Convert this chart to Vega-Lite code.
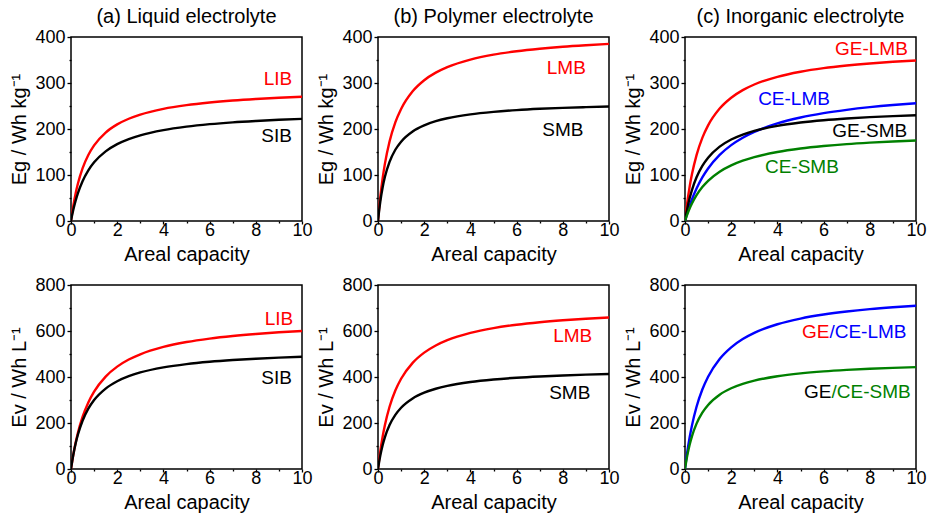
{
"$schema":"https://vega.github.io/schema/vega-lite/v6.json",
"padding":{"left":9,"top":6,"right":2,"bottom":2},
"config":{
 "font":"Liberation Sans",
 "view":{"stroke":"#000","strokeWidth":1.5},
 "axis":{"grid":false,"domain":false,"tickColor":"#000","tickSize":4,"tickWidth":1.3,"labelColor":"#000","labelFontSize":18,"labelPadding":2,"titleFontSize":20,"titleFontWeight":"normal","titleColor":"#000","labelFlush":false},
 "axisY":{"titlePadding":5},
 "axisX":{"titlePadding":5,"tickSize":3,"labelPadding":-3},
 "title":{"fontSize":20,"fontWeight":"normal","color":"#000","offset":1,"anchor":"middle"}
},
"datasets":{
"labels":[
{"p":"a1","t":"LIB","s":"LIB","x":8.96,"y":309},
{"p":"a1","t":"SIB","s":"SIB","x":8.9,"y":185},
{"p":"b1","t":"LMB","s":"LMB","x":8.15,"y":333},
{"p":"b1","t":"SMB","s":"SMB","x":8.0,"y":198},
{"p":"c1","t":"GE-LMB","s":"GE-LMB","x":8.07,"y":374},
{"p":"c1","t":"CE-LMB","s":"CE-LMB","x":4.72,"y":265},
{"p":"c1","t":"GE-SMB","s":"GE-SMB","x":8.0,"y":196},
{"p":"c1","t":"CE-SMB","s":"CE-SMB","x":5.06,"y":117},
{"p":"a2","t":"LIB","s":"LIB","x":9.0,"y":652},
{"p":"a2","t":"SIB","s":"SIB","x":8.9,"y":394},
{"p":"b2","t":"LMB","s":"LMB","x":8.43,"y":578},
{"p":"b2","t":"SMB","s":"SMB","x":8.3,"y":329},
{"p":"c2","t":"GE","s":"GE-LMB","x":6.25,"y":597},
{"p":"c2","t":"/CE-LMB","s":"CE-LMB","x":6.25,"y":597},
{"p":"c2","t":"GE","s":"GE-SMB","x":6.34,"y":336},
{"p":"c2","t":"/CE-SMB","s":"CE-SMB","x":6.34,"y":336}
],
"curves":[
{"p":"a1","s":"LIB","x":0,"y":0},{"p":"a1","s":"LIB","x":0.05,"y":17.7},{"p":"a1","s":"LIB","x":0.1,"y":33.4},{"p":"a1","s":"LIB","x":0.2,"y":60.0},{"p":"a1","s":"LIB","x":0.3,"y":81.5},{"p":"a1","s":"LIB","x":0.5,"y":114.5},{"p":"a1","s":"LIB","x":0.75,"y":143.5},{"p":"a1","s":"LIB","x":1,"y":164.3},{"p":"a1","s":"LIB","x":1.5,"y":192.2},{"p":"a1","s":"LIB","x":2,"y":210.0},{"p":"a1","s":"LIB","x":2.5,"y":222.3},{"p":"a1","s":"LIB","x":3,"y":231.4},{"p":"a1","s":"LIB","x":4,"y":243.9},{"p":"a1","s":"LIB","x":5,"y":252.0},{"p":"a1","s":"LIB","x":6,"y":257.7},{"p":"a1","s":"LIB","x":7,"y":262.0},{"p":"a1","s":"LIB","x":8,"y":265.3},{"p":"a1","s":"LIB","x":9,"y":267.9},{"p":"a1","s":"LIB","x":10,"y":270.0},
{"p":"a1","s":"SIB","x":0,"y":0},{"p":"a1","s":"SIB","x":0.05,"y":12.8},{"p":"a1","s":"SIB","x":0.1,"y":24.3},{"p":"a1","s":"SIB","x":0.2,"y":44.1},{"p":"a1","s":"SIB","x":0.3,"y":60.7},{"p":"a1","s":"SIB","x":0.5,"y":86.6},{"p":"a1","s":"SIB","x":0.75,"y":110.2},{"p":"a1","s":"SIB","x":1,"y":127.6},{"p":"a1","s":"SIB","x":1.5,"y":151.4},{"p":"a1","s":"SIB","x":2,"y":167.1},{"p":"a1","s":"SIB","x":2.5,"y":178.1},{"p":"a1","s":"SIB","x":3,"y":186.3},{"p":"a1","s":"SIB","x":4,"y":197.6},{"p":"a1","s":"SIB","x":5,"y":205.1},{"p":"a1","s":"SIB","x":6,"y":210.5},{"p":"a1","s":"SIB","x":7,"y":214.5},{"p":"a1","s":"SIB","x":8,"y":217.5},{"p":"a1","s":"SIB","x":9,"y":220.0},{"p":"a1","s":"SIB","x":10,"y":222.0},
{"p":"b1","s":"LMB","x":0,"y":0},{"p":"b1","s":"LMB","x":0.05,"y":27.8},{"p":"b1","s":"LMB","x":0.1,"y":52.2},{"p":"b1","s":"LMB","x":0.2,"y":92.6},{"p":"b1","s":"LMB","x":0.3,"y":124.8},{"p":"b1","s":"LMB","x":0.5,"y":173.0},{"p":"b1","s":"LMB","x":0.75,"y":214.5},{"p":"b1","s":"LMB","x":1,"y":243.6},{"p":"b1","s":"LMB","x":1.5,"y":282.0},{"p":"b1","s":"LMB","x":2,"y":306.1},{"p":"b1","s":"LMB","x":2.5,"y":322.6},{"p":"b1","s":"LMB","x":3,"y":334.6},{"p":"b1","s":"LMB","x":4,"y":351.0},{"p":"b1","s":"LMB","x":5,"y":361.7},{"p":"b1","s":"LMB","x":6,"y":369.1},{"p":"b1","s":"LMB","x":7,"y":374.6},{"p":"b1","s":"LMB","x":8,"y":378.9},{"p":"b1","s":"LMB","x":9,"y":382.2},{"p":"b1","s":"LMB","x":10,"y":385.0},
{"p":"b1","s":"SMB","x":0,"y":0},{"p":"b1","s":"SMB","x":0.05,"y":23.1},{"p":"b1","s":"SMB","x":0.1,"y":42.4},{"p":"b1","s":"SMB","x":0.2,"y":73.0},{"p":"b1","s":"SMB","x":0.3,"y":96.1},{"p":"b1","s":"SMB","x":0.5,"y":128.6},{"p":"b1","s":"SMB","x":0.75,"y":154.9},{"p":"b1","s":"SMB","x":1,"y":172.5},{"p":"b1","s":"SMB","x":1.5,"y":194.7},{"p":"b1","s":"SMB","x":2,"y":208.0},{"p":"b1","s":"SMB","x":2.5,"y":216.9},{"p":"b1","s":"SMB","x":3,"y":223.3},{"p":"b1","s":"SMB","x":4,"y":231.9},{"p":"b1","s":"SMB","x":5,"y":237.3},{"p":"b1","s":"SMB","x":6,"y":241.1},{"p":"b1","s":"SMB","x":7,"y":243.9},{"p":"b1","s":"SMB","x":8,"y":246.0},{"p":"b1","s":"SMB","x":9,"y":247.6},{"p":"b1","s":"SMB","x":10,"y":249.0},
{"p":"c1","s":"GE-LMB","x":0,"y":0},{"p":"c1","s":"GE-LMB","x":0.05,"y":21.8},{"p":"c1","s":"GE-LMB","x":0.1,"y":41.2},{"p":"c1","s":"GE-LMB","x":0.2,"y":74.2},{"p":"c1","s":"GE-LMB","x":0.3,"y":101.4},{"p":"c1","s":"GE-LMB","x":0.5,"y":143.3},{"p":"c1","s":"GE-LMB","x":0.75,"y":180.7},{"p":"c1","s":"GE-LMB","x":1,"y":207.8},{"p":"c1","s":"GE-LMB","x":1.5,"y":244.4},{"p":"c1","s":"GE-LMB","x":2,"y":268.0},{"p":"c1","s":"GE-LMB","x":2.5,"y":284.5},{"p":"c1","s":"GE-LMB","x":3,"y":296.7},{"p":"c1","s":"GE-LMB","x":4,"y":313.5},{"p":"c1","s":"GE-LMB","x":5,"y":324.5},{"p":"c1","s":"GE-LMB","x":6,"y":332.3},{"p":"c1","s":"GE-LMB","x":7,"y":338.0},{"p":"c1","s":"GE-LMB","x":8,"y":342.5},{"p":"c1","s":"GE-LMB","x":9,"y":346.1},{"p":"c1","s":"GE-LMB","x":10,"y":349.0},
{"p":"c1","s":"CE-LMB","x":0,"y":0},{"p":"c1","s":"CE-LMB","x":0.05,"y":9.0},{"p":"c1","s":"CE-LMB","x":0.1,"y":17.5},{"p":"c1","s":"CE-LMB","x":0.2,"y":33.0},{"p":"c1","s":"CE-LMB","x":0.3,"y":46.9},{"p":"c1","s":"CE-LMB","x":0.5,"y":70.7},{"p":"c1","s":"CE-LMB","x":0.75,"y":94.8},{"p":"c1","s":"CE-LMB","x":1,"y":114.2},{"p":"c1","s":"CE-LMB","x":1.5,"y":143.7},{"p":"c1","s":"CE-LMB","x":2,"y":165.0},{"p":"c1","s":"CE-LMB","x":2.5,"y":181.1},{"p":"c1","s":"CE-LMB","x":3,"y":193.7},{"p":"c1","s":"CE-LMB","x":4,"y":212.1},{"p":"c1","s":"CE-LMB","x":5,"y":225.0},{"p":"c1","s":"CE-LMB","x":6,"y":234.5},{"p":"c1","s":"CE-LMB","x":7,"y":241.7},{"p":"c1","s":"CE-LMB","x":8,"y":247.5},{"p":"c1","s":"CE-LMB","x":9,"y":252.2},{"p":"c1","s":"CE-LMB","x":10,"y":256.0},
{"p":"c1","s":"GE-SMB","x":0,"y":0},{"p":"c1","s":"GE-SMB","x":0.05,"y":14.5},{"p":"c1","s":"GE-SMB","x":0.1,"y":27.4},{"p":"c1","s":"GE-SMB","x":0.2,"y":49.3},{"p":"c1","s":"GE-SMB","x":0.3,"y":67.3},{"p":"c1","s":"GE-SMB","x":0.5,"y":95.0},{"p":"c1","s":"GE-SMB","x":0.75,"y":119.7},{"p":"c1","s":"GE-SMB","x":1,"y":137.5},{"p":"c1","s":"GE-SMB","x":1.5,"y":161.6},{"p":"c1","s":"GE-SMB","x":2,"y":177.1},{"p":"c1","s":"GE-SMB","x":2.5,"y":187.9},{"p":"c1","s":"GE-SMB","x":3,"y":195.9},{"p":"c1","s":"GE-SMB","x":4,"y":206.8},{"p":"c1","s":"GE-SMB","x":5,"y":214.0},{"p":"c1","s":"GE-SMB","x":6,"y":219.1},{"p":"c1","s":"GE-SMB","x":7,"y":222.9},{"p":"c1","s":"GE-SMB","x":8,"y":225.8},{"p":"c1","s":"GE-SMB","x":9,"y":228.1},{"p":"c1","s":"GE-SMB","x":10,"y":230.0},
{"p":"c1","s":"CE-SMB","x":0,"y":0},{"p":"c1","s":"CE-SMB","x":0.05,"y":7.5},{"p":"c1","s":"CE-SMB","x":0.1,"y":14.5},{"p":"c1","s":"CE-SMB","x":0.2,"y":27.1},{"p":"c1","s":"CE-SMB","x":0.3,"y":38.0},{"p":"c1","s":"CE-SMB","x":0.5,"y":56.1},{"p":"c1","s":"CE-SMB","x":0.75,"y":73.7},{"p":"c1","s":"CE-SMB","x":1,"y":87.4},{"p":"c1","s":"CE-SMB","x":1.5,"y":107.3},{"p":"c1","s":"CE-SMB","x":2,"y":121.0},{"p":"c1","s":"CE-SMB","x":2.5,"y":131.2},{"p":"c1","s":"CE-SMB","x":3,"y":138.9},{"p":"c1","s":"CE-SMB","x":4,"y":150.0},{"p":"c1","s":"CE-SMB","x":5,"y":157.5},{"p":"c1","s":"CE-SMB","x":6,"y":162.9},{"p":"c1","s":"CE-SMB","x":7,"y":167.1},{"p":"c1","s":"CE-SMB","x":8,"y":170.3},{"p":"c1","s":"CE-SMB","x":9,"y":172.9},{"p":"c1","s":"CE-SMB","x":10,"y":175.0},
{"p":"a2","s":"LIB","x":0,"y":0},{"p":"a2","s":"LIB","x":0.05,"y":32.8},{"p":"a2","s":"LIB","x":0.1,"y":62.4},{"p":"a2","s":"LIB","x":0.2,"y":114.0},{"p":"a2","s":"LIB","x":0.3,"y":157.4},{"p":"a2","s":"LIB","x":0.5,"y":226.2},{"p":"a2","s":"LIB","x":0.75,"y":289.4},{"p":"a2","s":"LIB","x":1,"y":336.5},{"p":"a2","s":"LIB","x":1.5,"y":401.9},{"p":"a2","s":"LIB","x":2,"y":445.1},{"p":"a2","s":"LIB","x":2.5,"y":475.8},{"p":"a2","s":"LIB","x":3,"y":498.8},{"p":"a2","s":"LIB","x":4,"y":530.7},{"p":"a2","s":"LIB","x":5,"y":552.0},{"p":"a2","s":"LIB","x":6,"y":567.1},{"p":"a2","s":"LIB","x":7,"y":578.4},{"p":"a2","s":"LIB","x":8,"y":587.2},{"p":"a2","s":"LIB","x":9,"y":594.3},{"p":"a2","s":"LIB","x":10,"y":600.0},
{"p":"a2","s":"SIB","x":0,"y":0},{"p":"a2","s":"SIB","x":0.05,"y":32.8},{"p":"a2","s":"SIB","x":0.1,"y":61.7},{"p":"a2","s":"SIB","x":0.2,"y":110.4},{"p":"a2","s":"SIB","x":0.3,"y":149.9},{"p":"a2","s":"SIB","x":0.5,"y":209.8},{"p":"a2","s":"SIB","x":0.75,"y":262.3},{"p":"a2","s":"SIB","x":1,"y":299.8},{"p":"a2","s":"SIB","x":1.5,"y":349.7},{"p":"a2","s":"SIB","x":2,"y":381.5},{"p":"a2","s":"SIB","x":2.5,"y":403.5},{"p":"a2","s":"SIB","x":3,"y":419.7},{"p":"a2","s":"SIB","x":4,"y":441.8},{"p":"a2","s":"SIB","x":5,"y":456.2},{"p":"a2","s":"SIB","x":6,"y":466.3},{"p":"a2","s":"SIB","x":7,"y":473.8},{"p":"a2","s":"SIB","x":8,"y":479.6},{"p":"a2","s":"SIB","x":9,"y":484.2},{"p":"a2","s":"SIB","x":10,"y":488.0},
{"p":"b2","s":"LMB","x":0,"y":0},{"p":"b2","s":"LMB","x":0.05,"y":41.1},{"p":"b2","s":"LMB","x":0.1,"y":77.7},{"p":"b2","s":"LMB","x":0.2,"y":140.2},{"p":"b2","s":"LMB","x":0.3,"y":191.4},{"p":"b2","s":"LMB","x":0.5,"y":270.6},{"p":"b2","s":"LMB","x":0.75,"y":341.2},{"p":"b2","s":"LMB","x":1,"y":392.3},{"p":"b2","s":"LMB","x":1.5,"y":461.5},{"p":"b2","s":"LMB","x":2,"y":506.1},{"p":"b2","s":"LMB","x":2.5,"y":537.2},{"p":"b2","s":"LMB","x":3,"y":560.2},{"p":"b2","s":"LMB","x":4,"y":591.9},{"p":"b2","s":"LMB","x":5,"y":612.7},{"p":"b2","s":"LMB","x":6,"y":627.4},{"p":"b2","s":"LMB","x":7,"y":638.3},{"p":"b2","s":"LMB","x":8,"y":646.7},{"p":"b2","s":"LMB","x":9,"y":653.5},{"p":"b2","s":"LMB","x":10,"y":659.0},
{"p":"b2","s":"SMB","x":0,"y":0},{"p":"b2","s":"SMB","x":0.05,"y":31.4},{"p":"b2","s":"SMB","x":0.1,"y":58.6},{"p":"b2","s":"SMB","x":0.2,"y":103.5},{"p":"b2","s":"SMB","x":0.3,"y":138.9},{"p":"b2","s":"SMB","x":0.5,"y":191.2},{"p":"b2","s":"SMB","x":0.75,"y":235.6},{"p":"b2","s":"SMB","x":1,"y":266.5},{"p":"b2","s":"SMB","x":1.5,"y":306.8},{"p":"b2","s":"SMB","x":2,"y":331.9},{"p":"b2","s":"SMB","x":2.5,"y":349.0},{"p":"b2","s":"SMB","x":3,"y":361.5},{"p":"b2","s":"SMB","x":4,"y":378.3},{"p":"b2","s":"SMB","x":5,"y":389.2},{"p":"b2","s":"SMB","x":6,"y":396.8},{"p":"b2","s":"SMB","x":7,"y":402.4},{"p":"b2","s":"SMB","x":8,"y":406.8},{"p":"b2","s":"SMB","x":9,"y":410.2},{"p":"b2","s":"SMB","x":10,"y":413.0},
{"p":"c2","s":"GE/CE-LMB","x":0,"y":0},{"p":"c2","s":"GE/CE-LMB","x":0.05,"y":39.4},{"p":"c2","s":"GE/CE-LMB","x":0.1,"y":75.0},{"p":"c2","s":"GE/CE-LMB","x":0.2,"y":136.8},{"p":"c2","s":"GE/CE-LMB","x":0.3,"y":188.6},{"p":"c2","s":"GE/CE-LMB","x":0.5,"y":270.5},{"p":"c2","s":"GE/CE-LMB","x":0.75,"y":345.6},{"p":"c2","s":"GE/CE-LMB","x":1,"y":401.2},{"p":"c2","s":"GE/CE-LMB","x":1.5,"y":478.3},{"p":"c2","s":"GE/CE-LMB","x":2,"y":529.1},{"p":"c2","s":"GE/CE-LMB","x":2.5,"y":565.1},{"p":"c2","s":"GE/CE-LMB","x":3,"y":591.9},{"p":"c2","s":"GE/CE-LMB","x":4,"y":629.3},{"p":"c2","s":"GE/CE-LMB","x":5,"y":654.1},{"p":"c2","s":"GE/CE-LMB","x":6,"y":671.7},{"p":"c2","s":"GE/CE-LMB","x":7,"y":684.9},{"p":"c2","s":"GE/CE-LMB","x":8,"y":695.2},{"p":"c2","s":"GE/CE-LMB","x":9,"y":703.3},{"p":"c2","s":"GE/CE-LMB","x":10,"y":710.0},
{"p":"c2","s":"GE/CE-SMB","x":0,"y":0},{"p":"c2","s":"GE/CE-SMB","x":0.05,"y":31.6},{"p":"c2","s":"GE/CE-SMB","x":0.1,"y":59.2},{"p":"c2","s":"GE/CE-SMB","x":0.2,"y":105.2},{"p":"c2","s":"GE/CE-SMB","x":0.3,"y":142.1},{"p":"c2","s":"GE/CE-SMB","x":0.5,"y":197.4},{"p":"c2","s":"GE/CE-SMB","x":0.75,"y":245.1},{"p":"c2","s":"GE/CE-SMB","x":1,"y":278.7},{"p":"c2","s":"GE/CE-SMB","x":1.5,"y":323.1},{"p":"c2","s":"GE/CE-SMB","x":2,"y":351.1},{"p":"c2","s":"GE/CE-SMB","x":2.5,"y":370.3},{"p":"c2","s":"GE/CE-SMB","x":3,"y":384.3},{"p":"c2","s":"GE/CE-SMB","x":4,"y":403.4},{"p":"c2","s":"GE/CE-SMB","x":5,"y":415.8},{"p":"c2","s":"GE/CE-SMB","x":6,"y":424.5},{"p":"c2","s":"GE/CE-SMB","x":7,"y":430.9},{"p":"c2","s":"GE/CE-SMB","x":8,"y":435.9},{"p":"c2","s":"GE/CE-SMB","x":9,"y":439.8},{"p":"c2","s":"GE/CE-SMB","x":10,"y":443.0}
]
},
"spacing":10,
"vconcat":[
{"hconcat":[
 {"width":231,"height":184,"title":"(a) Liquid electrolyte",
  "layer":[
   {"data":{"name":"curves"},"transform":[{"filter":"datum.p==='a1'"}],
    "mark":{"type":"line","strokeWidth":2.4,"interpolate":"monotone","clip":true},
    "encoding":{
     "x":{"field":"x","type":"quantitative","scale":{"domain":[0,10]},"axis":{"orient":"bottom","values":[0,2,4,6,8,10],"title":"Areal capacity"}},
     "y":{"field":"y","type":"quantitative","scale":{"domain":[0,400]},"axis":{"orient":"left","values":[0,100,200,300,400],"title":"Eg / Wh kg⁻¹"}},
     "color":{"field":"s","type":"nominal","legend":null,"scale":{"domain":["LIB","SIB","LMB","SMB","GE-LMB","CE-LMB","GE-SMB","CE-SMB","GE/CE-LMB","GE/CE-SMB"],"range":["#ff0000","#000000","#ff0000","#000000","#ff0000","#0000ff","#000000","#008000","#0000ff","#008000"]}}}},
   {"data":{"name":"labels"},"transform":[{"filter":"datum.p==='a1'"}],
    "mark":{"type":"text","align":"center","baseline":"middle","fontSize":19},
    "encoding":{
     "x":{"field":"x","type":"quantitative","scale":{"domain":[0,10]},"axis":{"orient":"bottom","values":[1,3,5,7,9],"labels":false,"title":null,"tickSize":2}},
     "y":{"field":"y","type":"quantitative","scale":{"domain":[0,400]},"axis":{"orient":"left","values":[50,150,250,350],"labels":false,"title":null,"tickSize":2}},
     "text":{"field":"t"},
     "color":{"field":"s","type":"nominal","legend":null}}}
  ],
  "resolve":{"axis":{"x":"independent","y":"independent"}}},
 {"width":231,"height":184,"title":"(b) Polymer electrolyte",
  "layer":[
   {"data":{"name":"curves"},"transform":[{"filter":"datum.p==='b1'"}],
    "mark":{"type":"line","strokeWidth":2.4,"interpolate":"monotone","clip":true},
    "encoding":{
     "x":{"field":"x","type":"quantitative","scale":{"domain":[0,10]},"axis":{"orient":"bottom","values":[0,2,4,6,8,10],"title":"Areal capacity"}},
     "y":{"field":"y","type":"quantitative","scale":{"domain":[0,400]},"axis":{"orient":"left","values":[0,100,200,300,400],"title":"Eg / Wh kg⁻¹"}},
     "color":{"field":"s","type":"nominal","legend":null}}},
   {"data":{"name":"labels"},"transform":[{"filter":"datum.p==='b1'"}],
    "mark":{"type":"text","align":"center","baseline":"middle","fontSize":19},
    "encoding":{
     "x":{"field":"x","type":"quantitative","scale":{"domain":[0,10]},"axis":{"orient":"bottom","values":[1,3,5,7,9],"labels":false,"title":null,"tickSize":2}},
     "y":{"field":"y","type":"quantitative","scale":{"domain":[0,400]},"axis":{"orient":"left","values":[50,150,250,350],"labels":false,"title":null,"tickSize":2}},
     "text":{"field":"t"},
     "color":{"field":"s","type":"nominal","legend":null}}}
  ],
  "resolve":{"axis":{"x":"independent","y":"independent"}}},
 {"width":231,"height":184,"title":"(c) Inorganic electrolyte",
  "layer":[
   {"data":{"name":"curves"},"transform":[{"filter":"datum.p==='c1'"}],
    "mark":{"type":"line","strokeWidth":2.4,"interpolate":"monotone","clip":true},
    "encoding":{
     "x":{"field":"x","type":"quantitative","scale":{"domain":[0,10]},"axis":{"orient":"bottom","values":[0,2,4,6,8,10],"title":"Areal capacity"}},
     "y":{"field":"y","type":"quantitative","scale":{"domain":[0,400]},"axis":{"orient":"left","values":[0,100,200,300,400],"title":"Eg / Wh kg⁻¹"}},
     "color":{"field":"s","type":"nominal","legend":null}}},
   {"data":{"name":"labels"},"transform":[{"filter":"datum.p==='c1'"}],
    "mark":{"type":"text","align":"center","baseline":"middle","fontSize":19},
    "encoding":{
     "x":{"field":"x","type":"quantitative","scale":{"domain":[0,10]},"axis":{"orient":"bottom","values":[1,3,5,7,9],"labels":false,"title":null,"tickSize":2}},
     "y":{"field":"y","type":"quantitative","scale":{"domain":[0,400]},"axis":{"orient":"left","values":[50,150,250,350],"labels":false,"title":null,"tickSize":2}},
     "text":{"field":"t"},
     "color":{"field":"s","type":"nominal","legend":null}}}
  ],
  "resolve":{"axis":{"x":"independent","y":"independent"}}}
],"spacing":3},
{"hconcat":[
 {"width":231,"height":184,
  "layer":[
   {"data":{"name":"curves"},"transform":[{"filter":"datum.p==='a2'"}],
    "mark":{"type":"line","strokeWidth":2.4,"interpolate":"monotone","clip":true},
    "encoding":{
     "x":{"field":"x","type":"quantitative","scale":{"domain":[0,10]},"axis":{"orient":"bottom","values":[0,2,4,6,8,10],"title":"Areal capacity"}},
     "y":{"field":"y","type":"quantitative","scale":{"domain":[0,800]},"axis":{"orient":"left","values":[0,200,400,600,800],"title":"Ev / Wh L⁻¹"}},
     "color":{"field":"s","type":"nominal","legend":null}}},
   {"data":{"name":"labels"},"transform":[{"filter":"datum.p==='a2'"}],
    "mark":{"type":"text","align":"center","baseline":"middle","fontSize":19},
    "encoding":{
     "x":{"field":"x","type":"quantitative","scale":{"domain":[0,10]},"axis":{"orient":"bottom","values":[1,3,5,7,9],"labels":false,"title":null,"tickSize":2}},
     "y":{"field":"y","type":"quantitative","scale":{"domain":[0,800]},"axis":{"orient":"left","values":[100,300,500,700],"labels":false,"title":null,"tickSize":2}},
     "text":{"field":"t"},
     "color":{"field":"s","type":"nominal","legend":null}}}
  ],
  "resolve":{"axis":{"x":"independent","y":"independent"}}},
 {"width":231,"height":184,
  "layer":[
   {"data":{"name":"curves"},"transform":[{"filter":"datum.p==='b2'"}],
    "mark":{"type":"line","strokeWidth":2.4,"interpolate":"monotone","clip":true},
    "encoding":{
     "x":{"field":"x","type":"quantitative","scale":{"domain":[0,10]},"axis":{"orient":"bottom","values":[0,2,4,6,8,10],"title":"Areal capacity"}},
     "y":{"field":"y","type":"quantitative","scale":{"domain":[0,800]},"axis":{"orient":"left","values":[0,200,400,600,800],"title":"Ev / Wh L⁻¹"}},
     "color":{"field":"s","type":"nominal","legend":null}}},
   {"data":{"name":"labels"},"transform":[{"filter":"datum.p==='b2'"}],
    "mark":{"type":"text","align":"center","baseline":"middle","fontSize":19},
    "encoding":{
     "x":{"field":"x","type":"quantitative","scale":{"domain":[0,10]},"axis":{"orient":"bottom","values":[1,3,5,7,9],"labels":false,"title":null,"tickSize":2}},
     "y":{"field":"y","type":"quantitative","scale":{"domain":[0,800]},"axis":{"orient":"left","values":[100,300,500,700],"labels":false,"title":null,"tickSize":2}},
     "text":{"field":"t"},
     "color":{"field":"s","type":"nominal","legend":null}}}
  ],
  "resolve":{"axis":{"x":"independent","y":"independent"}}},
 {"width":231,"height":184,
  "layer":[
   {"data":{"name":"curves"},"transform":[{"filter":"datum.p==='c2'"}],
    "mark":{"type":"line","strokeWidth":2.4,"interpolate":"monotone","clip":true},
    "encoding":{
     "x":{"field":"x","type":"quantitative","scale":{"domain":[0,10]},"axis":{"orient":"bottom","values":[0,2,4,6,8,10],"title":"Areal capacity"}},
     "y":{"field":"y","type":"quantitative","scale":{"domain":[0,800]},"axis":{"orient":"left","values":[0,200,400,600,800],"title":"Ev / Wh L⁻¹"}},
     "color":{"field":"s","type":"nominal","legend":null}}},
   {"data":{"name":"labels"},"transform":[{"filter":"datum.p==='c2' && datum.t==='GE'"}],
    "mark":{"type":"text","align":"right","baseline":"middle","fontSize":19},
    "encoding":{
     "x":{"field":"x","type":"quantitative","scale":{"domain":[0,10]},"axis":{"orient":"bottom","values":[1,3,5,7,9],"labels":false,"title":null,"tickSize":2}},
     "y":{"field":"y","type":"quantitative","scale":{"domain":[0,800]},"axis":{"orient":"left","values":[100,300,500,700],"labels":false,"title":null,"tickSize":2}},
     "text":{"field":"t"},
     "color":{"field":"s","type":"nominal","legend":null}}},
   {"data":{"name":"labels"},"transform":[{"filter":"datum.p==='c2' && datum.t!=='GE'"}],
    "mark":{"type":"text","align":"left","baseline":"middle","fontSize":19},
    "encoding":{
     "x":{"field":"x","type":"quantitative","scale":{"domain":[0,10]},"axis":null},
     "y":{"field":"y","type":"quantitative","scale":{"domain":[0,800]},"axis":null},
     "text":{"field":"t"},
     "color":{"field":"s","type":"nominal","legend":null}}}
  ],
  "resolve":{"axis":{"x":"independent","y":"independent"}}}
],"spacing":3}
]
}
